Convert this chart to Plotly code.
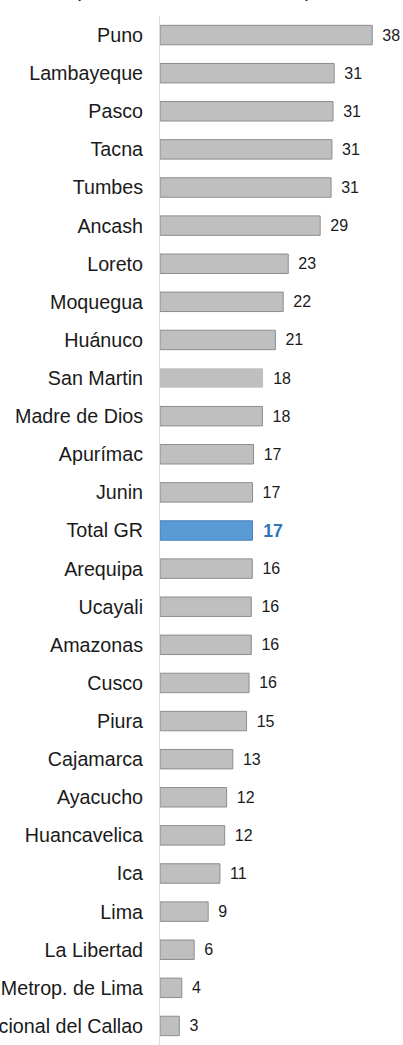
import plotly.graph_objects as go

regions = [
    "Puno", "Lambayeque", "Pasco", "Tacna", "Tumbes", "Ancash", "Loreto",
    "Moquegua", "Huánuco", "San Martin", "Madre de Dios", "Apurímac", "Junin",
    "Total GR", "Arequipa", "Ucayali", "Amazonas", "Cusco", "Piura",
    "Cajamarca", "Ayacucho", "Huancavelica", "Ica", "Lima", "La Libertad",
    "Mun. Metrop. de Lima", "Prov. Constitucional del Callao",
]
values = [
    37.9, 31.1, 30.9, 30.7, 30.55, 28.6, 22.9,
    22.0, 20.6, 18.4, 18.3, 16.7, 16.52,
    16.51, 16.48, 16.3, 16.3, 15.9, 15.45,
    13.0, 11.9, 11.55, 10.7, 8.6, 6.1,
    3.9, 3.45,
]
title_text = "(En % del PIM del sector)"

highlight = "Total GR"
no_border = "San Martin"

fills, lines, lwidths = [], [], []
for r in regions:
    if r == highlight:
        fills.append("#5B9BD5"); lines.append("#4A82BA"); lwidths.append(1)
    else:
        fills.append("#BFBFBF"); lines.append("#8C8C8C")
        lwidths.append(0 if r == no_border else 1)

labels = [" \u2006" + f"{v:.0f}" for v in values]
label_colors = ["#2E75B6" if r == highlight else "#1a1a1a" for r in regions]
label_sizes = [19 if r == highlight else 16 for r in regions]

fig = go.Figure(go.Bar(
    x=values, y=regions, orientation="h",
    marker=dict(color=fills, line=dict(color=lines, width=lwidths)),
    text=labels, textposition="outside", cliponaxis=False,
    textfont=dict(color=label_colors, size=label_sizes,
                  family="Liberation Sans, Arial, sans-serif"),
    texttemplate=[("<b>%{text}</b>" if r == highlight else "%{text}") for r in regions],
    hoverinfo="x+y",
))

fig.add_annotation(
    text=title_text, xref="paper", yref="paper", x=0.147, y=1,
    xanchor="center", yanchor="bottom", yshift=13, showarrow=False,
    font=dict(size=21, color="#1a1a1a", family="Liberation Sans, Arial, sans-serif"),
)

fig.update_layout(
    width=403, height=1045,
    margin=dict(l=160, r=19, t=16, b=0, autoexpand=False),
    paper_bgcolor="white", plot_bgcolor="white",
    bargap=0.49, showlegend=False,
    font=dict(family="Liberation Sans, Arial, sans-serif", color="#1a1a1a"),
    xaxis=dict(range=[0, 40], showgrid=False, zeroline=False,
               showticklabels=False, showline=False, fixedrange=True),
    yaxis=dict(range=[len(regions) - 0.5, -0.5], type="category",
               showline=True, linecolor="#DDDDDD", linewidth=1,
               ticks="", ticklabelstandoff=12, automargin=False,
               tickfont=dict(size=19.7, color="#1a1a1a"), showgrid=False),
)

fig.write_html("out.html", config={"displayModeBar": False},
               post_script="document.body.style.margin='0';document.body.style.overflow='hidden';")
